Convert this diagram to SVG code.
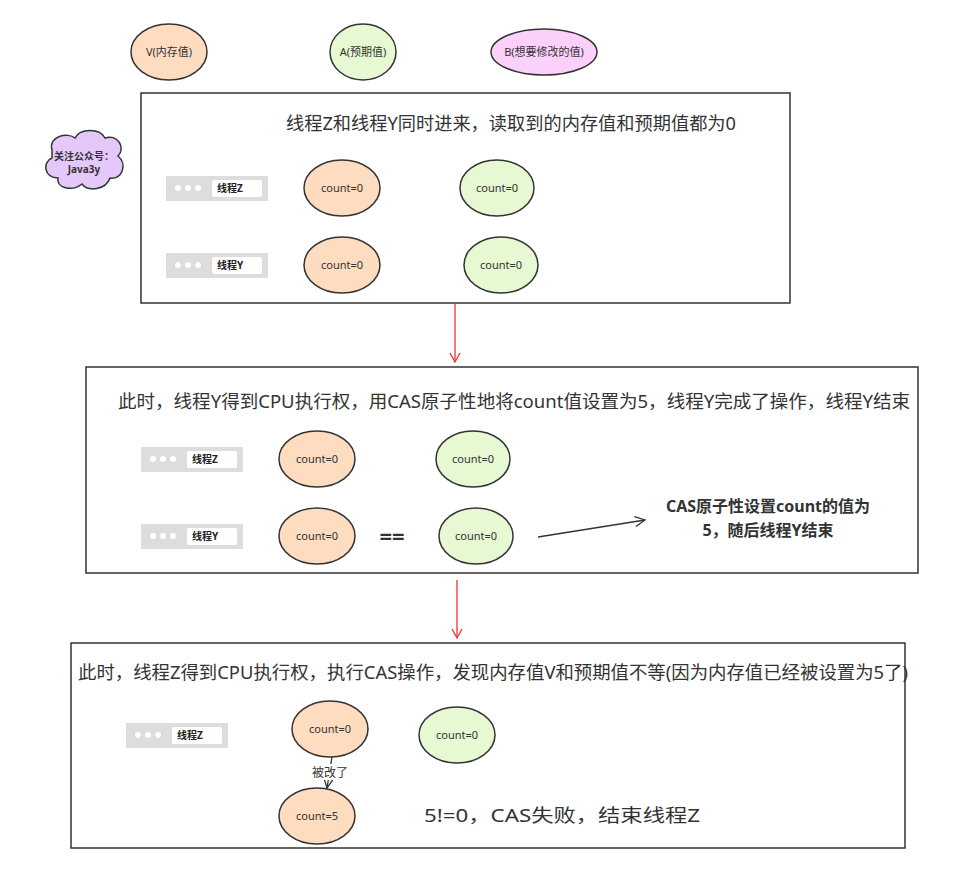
<svg xmlns="http://www.w3.org/2000/svg" width="959" height="869" viewBox="0 0 959 869">
<style>
text{font-family:"Noto Sans","Noto Sans CJK SC",sans-serif;fill:#333}
.o{fill:#fddcc0;stroke:#333;stroke-width:1.5}
.g{fill:#e6f9d2;stroke:#333;stroke-width:1.5}
.p{fill:#fbd0fb;stroke:#333;stroke-width:1.5}
.box{fill:#fff;stroke:#333;stroke-width:1.5}
.s{font-size:11px;text-anchor:middle}
.t{font-size:18px}
.bar{fill:#ddd}
.lab{fill:#fff}
.bt{font-size:10px;font-weight:bold;fill:#222}
.dot{fill:#fff}
</style>
<defs>
<marker id="ra" markerWidth="12" markerHeight="12" refX="10" refY="6" orient="auto" markerUnits="userSpaceOnUse"><path d="M1,1 L10,6 L1,11" fill="none" stroke="#e33" stroke-width="1.3"/></marker>
<marker id="ka" markerWidth="14" markerHeight="12" refX="11" refY="6" orient="auto" markerUnits="userSpaceOnUse"><path d="M1,1 L11,6 L1,11" fill="none" stroke="#333" stroke-width="1.3"/></marker>
<g id="thr"><rect class="bar" x="0" y="0" width="102" height="25"/><circle class="dot" cx="12" cy="12" r="3"/><circle class="dot" cx="22" cy="12" r="3"/><circle class="dot" cx="32" cy="12" r="3"/><rect class="lab" x="46" y="4" width="50" height="17" rx="2"/></g>
</defs>
<rect width="959" height="869" fill="#fff"/>
<g id="legendV"><ellipse class="o" cx="169" cy="52" rx="38" ry="28"/><text class="s" x="169" y="56">V(内存值)</text></g>
<g id="legendA"><ellipse class="g" cx="363" cy="52" rx="33" ry="28"/><text class="s" x="363" y="56">A(预期值)</text></g>
<g id="legendB"><ellipse class="p" cx="544" cy="52" rx="53" ry="23"/><text class="s" x="544" y="56">B(想要修改的值)</text></g>
<g id="cloud"><path d="M52,150 C48,136 68,132 75,138 C80,128 100,128 105,138 C118,134 126,148 118,156 C128,164 122,180 110,178 C106,190 88,192 82,184 C72,192 56,188 58,178 C44,178 42,162 52,158 Z" fill="#e4c8f9" stroke="#333" stroke-width="1.5"/><text x="84" y="160" font-size="10" font-weight="bold" text-anchor="middle">关注公众号：</text><text x="84" y="173" font-size="10" font-weight="bold" text-anchor="middle">Java3y</text></g>
<g id="box1"><rect class="box" x="141" y="93" width="649" height="210"/><text class="t" x="286" y="130" textLength="450" lengthAdjust="spacingAndGlyphs">线程Z和线程Y同时进来，读取到的内存值和预期值都为0</text>
<use href="#thr" x="166" y="176"/><text class="bt" x="217" y="192">线程Z</text>
<use href="#thr" x="166" y="253"/><text class="bt" x="217" y="269">线程Y</text>
<ellipse class="o" cx="342" cy="188" rx="38" ry="28"/><text class="s" x="342" y="192">count=0</text>
<ellipse class="g" cx="497" cy="188" rx="37" ry="28"/><text class="s" x="497" y="192">count=0</text>
<ellipse class="o" cx="342" cy="265" rx="38" ry="28"/><text class="s" x="342" y="269">count=0</text>
<ellipse class="g" cx="501" cy="265" rx="37" ry="28"/><text class="s" x="501" y="269">count=0</text></g>
<g id="box2"><rect class="box" x="86" y="367" width="832" height="206"/><text class="t" x="118" y="408" textLength="792" lengthAdjust="spacingAndGlyphs">此时，线程Y得到CPU执行权，用CAS原子性地将count值设置为5，线程Y完成了操作，线程Y结束</text>
<use href="#thr" x="141" y="447"/><text class="bt" x="192" y="463">线程Z</text>
<use href="#thr" x="141" y="524"/><text class="bt" x="192" y="540">线程Y</text>
<ellipse class="o" cx="317" cy="459" rx="38" ry="28"/><text class="s" x="317" y="463">count=0</text>
<ellipse class="g" cx="473" cy="459" rx="37" ry="28"/><text class="s" x="473" y="463">count=0</text>
<ellipse class="o" cx="317" cy="536" rx="38" ry="28"/><text class="s" x="317" y="540">count=0</text>
<ellipse class="g" cx="476" cy="536" rx="37" ry="28"/><text class="s" x="476" y="540">count=0</text>
<text x="392" y="544" font-size="22" font-weight="bold" text-anchor="middle">==</text>
<text x="768" y="512" font-size="16" font-weight="bold" text-anchor="middle">CAS原子性设置count的值为</text>
<text x="768" y="536" font-size="16" font-weight="bold" text-anchor="middle">5，随后线程Y结束</text></g>
<g id="box3"><rect class="box" x="71" y="643" width="834" height="205"/><text class="t" x="78" y="679" textLength="830" lengthAdjust="spacingAndGlyphs">此时，线程Z得到CPU执行权，执行CAS操作，发现内存值V和预期值不等(因为内存值已经被设置为5了)</text>
<use href="#thr" x="126" y="723"/><text class="bt" x="177" y="739">线程Z</text>
<ellipse class="o" cx="330" cy="729" rx="38" ry="28"/><text class="s" x="330" y="733">count=0</text>
<ellipse class="g" cx="457" cy="735" rx="38" ry="28"/><text class="s" x="457" y="739">count=0</text>
<ellipse class="o" cx="317" cy="816" rx="38" ry="28"/><text class="s" x="317" y="820">count=5</text>
<text x="424" y="822" font-size="18" textLength="276" lengthAdjust="spacingAndGlyphs">5!=0，CAS失败，结束线程Z</text></g>
<g id="connectors">
<line x1="455" y1="303" x2="455" y2="362" stroke="#e33" stroke-width="1.3" marker-end="url(#ra)"/>
<line x1="457" y1="580" x2="457" y2="638" stroke="#e33" stroke-width="1.3" marker-end="url(#ra)"/>
<line x1="538" y1="537" x2="645" y2="520" stroke="#333" stroke-width="1.3" marker-end="url(#ka)"/>
<line x1="332" y1="757" x2="327" y2="788" stroke="#333" stroke-width="1.3" marker-end="url(#ka)"/>
<rect x="308" y="764" width="44" height="16" fill="#fff"/>
<text x="330" y="777" font-size="12" text-anchor="middle">被改了</text>
</g>
</svg>
